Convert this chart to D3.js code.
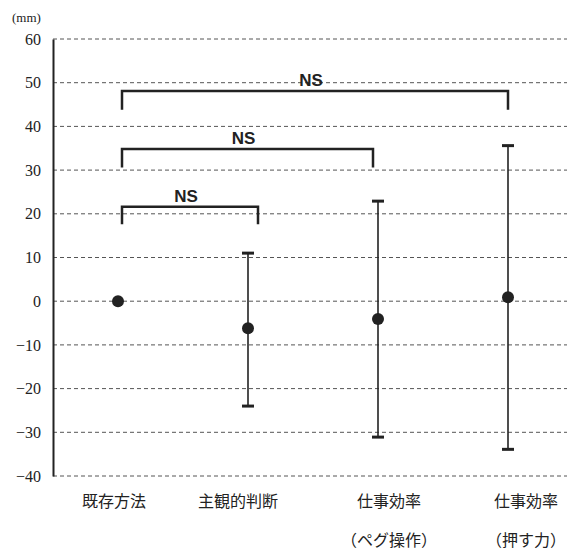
<!DOCTYPE html>
<html>
<head>
<meta charset="utf-8">
<script src="https://cdn.jsdelivr.net/npm/d3@7"></script>
<style>
  body { margin: 0; background: #fff; }
  svg { display: block; }
</style>
</head>
<body>
<div id="chart"></div>
<script>
const categories = ['既存方法', '主観的判断', '仕事効率', '仕事効率'];
const subLabels = ['', '', '（ペグ操作）', '（押す力）'];
const means = [0, -6.2, -4.1, 0.9];
const upper = [null, 11, 22.9, 35.6];
const lower = [null, -24, -31.1, -33.9];
const yTicks = [60, 50, 40, 30, 20, 10, 0, -10, -20, -30, -40];
// brackets: from category index, to category index, bar height, leg bottom
const brackets = [
    { from: 0, to: 1, top: 21.6, foot: 17.6, label: 'NS' },
    { from: 0, to: 2, top: 34.8, foot: 30.6, label: 'NS' },
    { from: 0, to: 3, top: 48.1, foot: 43.8, label: 'NS' }
];
const bracketOffset = [4, 10, -5, 0];
const labelOffset = [-4, -10, 11, 18];

const width = 573, height = 550;
const margin = { top: 39, right: 0, bottom: 74, left: 53 };

const svg = d3.select('#chart').append('svg')
    .attr('width', width)
    .attr('height', height);

const x = d3.scaleBand()
    .domain(d3.range(categories.length))
    .range([margin.left, width - margin.right]);

const y = d3.scaleLinear()
    .domain([-40, 60])
    .range([height - margin.bottom, margin.top]);

const cx = (i) => x(i) + x.bandwidth() / 2;

// grid
svg.append('g')
    .selectAll('line')
    .data(yTicks)
    .enter().append('line')
    .attr('x1', margin.left)
    .attr('x2', width - 6)
    .attr('y1', d => y(d))
    .attr('y2', d => y(d))
    .attr('stroke', '#555')
    .attr('stroke-width', 1)
    .attr('stroke-dasharray', '4,3');

// y axis
const yAxis = svg.append('g')
    .attr('transform', `translate(${margin.left},0)`)
    .call(d3.axisLeft(y).tickValues(yTicks).tickSize(0).tickPadding(12)
        .tickFormat(d => d < 0 ? '−' + Math.abs(d) : d));
yAxis.select('.domain').attr('stroke', '#222').attr('stroke-width', 2);
yAxis.attr('font-family', null);
yAxis.selectAll('text')
    .style('font-family', '"Liberation Serif", "DejaVu Serif", serif')
    .style('font-size', '16px')
    .attr('fill', '#222');

svg.append('text')
    .attr('x', 12)
    .attr('y', 22)
    .style('font-family', '"Liberation Serif", serif')
    .attr('font-size', 13)
    .attr('fill', '#222')
    .text('(mm)');

// category labels
svg.append('g')
    .selectAll('text')
    .data(categories)
    .enter().append('text')
    .attr('x', (d, i) => cx(i) + labelOffset[i])
    .attr('y', 507)
    .attr('text-anchor', 'middle')
    .style('font-family', '"Noto Sans CJK JP", sans-serif')
    .attr('font-size', 16)
    .attr('fill', '#222')
    .text(d => d);

svg.append('g')
    .selectAll('text')
    .data(subLabels)
    .enter().append('text')
    .attr('x', (d, i) => cx(i) + labelOffset[i])
    .attr('y', 546)
    .attr('text-anchor', 'middle')
    .style('font-family', '"Noto Sans CJK JP", sans-serif')
    .attr('font-size', 16)
    .attr('fill', '#222')
    .text(d => d);

// error bars
const err = svg.append('g')
    .selectAll('g')
    .data(d3.range(categories.length).filter(i => upper[i] !== null))
    .enter().append('g');

err.append('line')
    .attr('x1', i => cx(i)).attr('x2', i => cx(i))
    .attr('y1', i => y(upper[i])).attr('y2', i => y(lower[i]))
    .attr('stroke', '#222').attr('stroke-width', 1.6);

err.selectAll('.cap')
    .data(i => [[i, upper[i]], [i, lower[i]]])
    .enter().append('line')
    .attr('class', 'cap')
    .attr('x1', d => cx(d[0]) - 6).attr('x2', d => cx(d[0]) + 6)
    .attr('y1', d => y(d[1])).attr('y2', d => y(d[1]))
    .attr('stroke', '#222').attr('stroke-width', 3);

// means
svg.append('g')
    .selectAll('circle')
    .data(means)
    .enter().append('circle')
    .attr('cx', (d, i) => cx(i))
    .attr('cy', d => y(d))
    .attr('r', 6)
    .attr('fill', '#222');

// significance brackets
const br = svg.append('g')
    .selectAll('g')
    .data(brackets)
    .enter().append('g');

br.append('path')
    .attr('d', d => {
        const x1 = cx(d.from) + bracketOffset[d.from];
        const x2 = cx(d.to) + bracketOffset[d.to];
        return `M${x1},${y(d.foot)}V${y(d.top)}H${x2}V${y(d.foot)}`;
    })
    .attr('fill', 'none')
    .attr('stroke', '#222')
    .attr('stroke-width', 2.5);

br.append('text')
    .attr('x', d => (cx(d.from) + bracketOffset[d.from] + cx(d.to) + bracketOffset[d.to]) / 2 - 4)
    .attr('y', d => y(d.top) - 5)
    .attr('text-anchor', 'middle')
    .style('font-family', '"Liberation Sans", Arial, sans-serif')
    .attr('font-weight', 'bold')
    .attr('font-size', 17)
    .attr('fill', '#222')
    .text(d => d.label);
</script>
</body>
</html>
